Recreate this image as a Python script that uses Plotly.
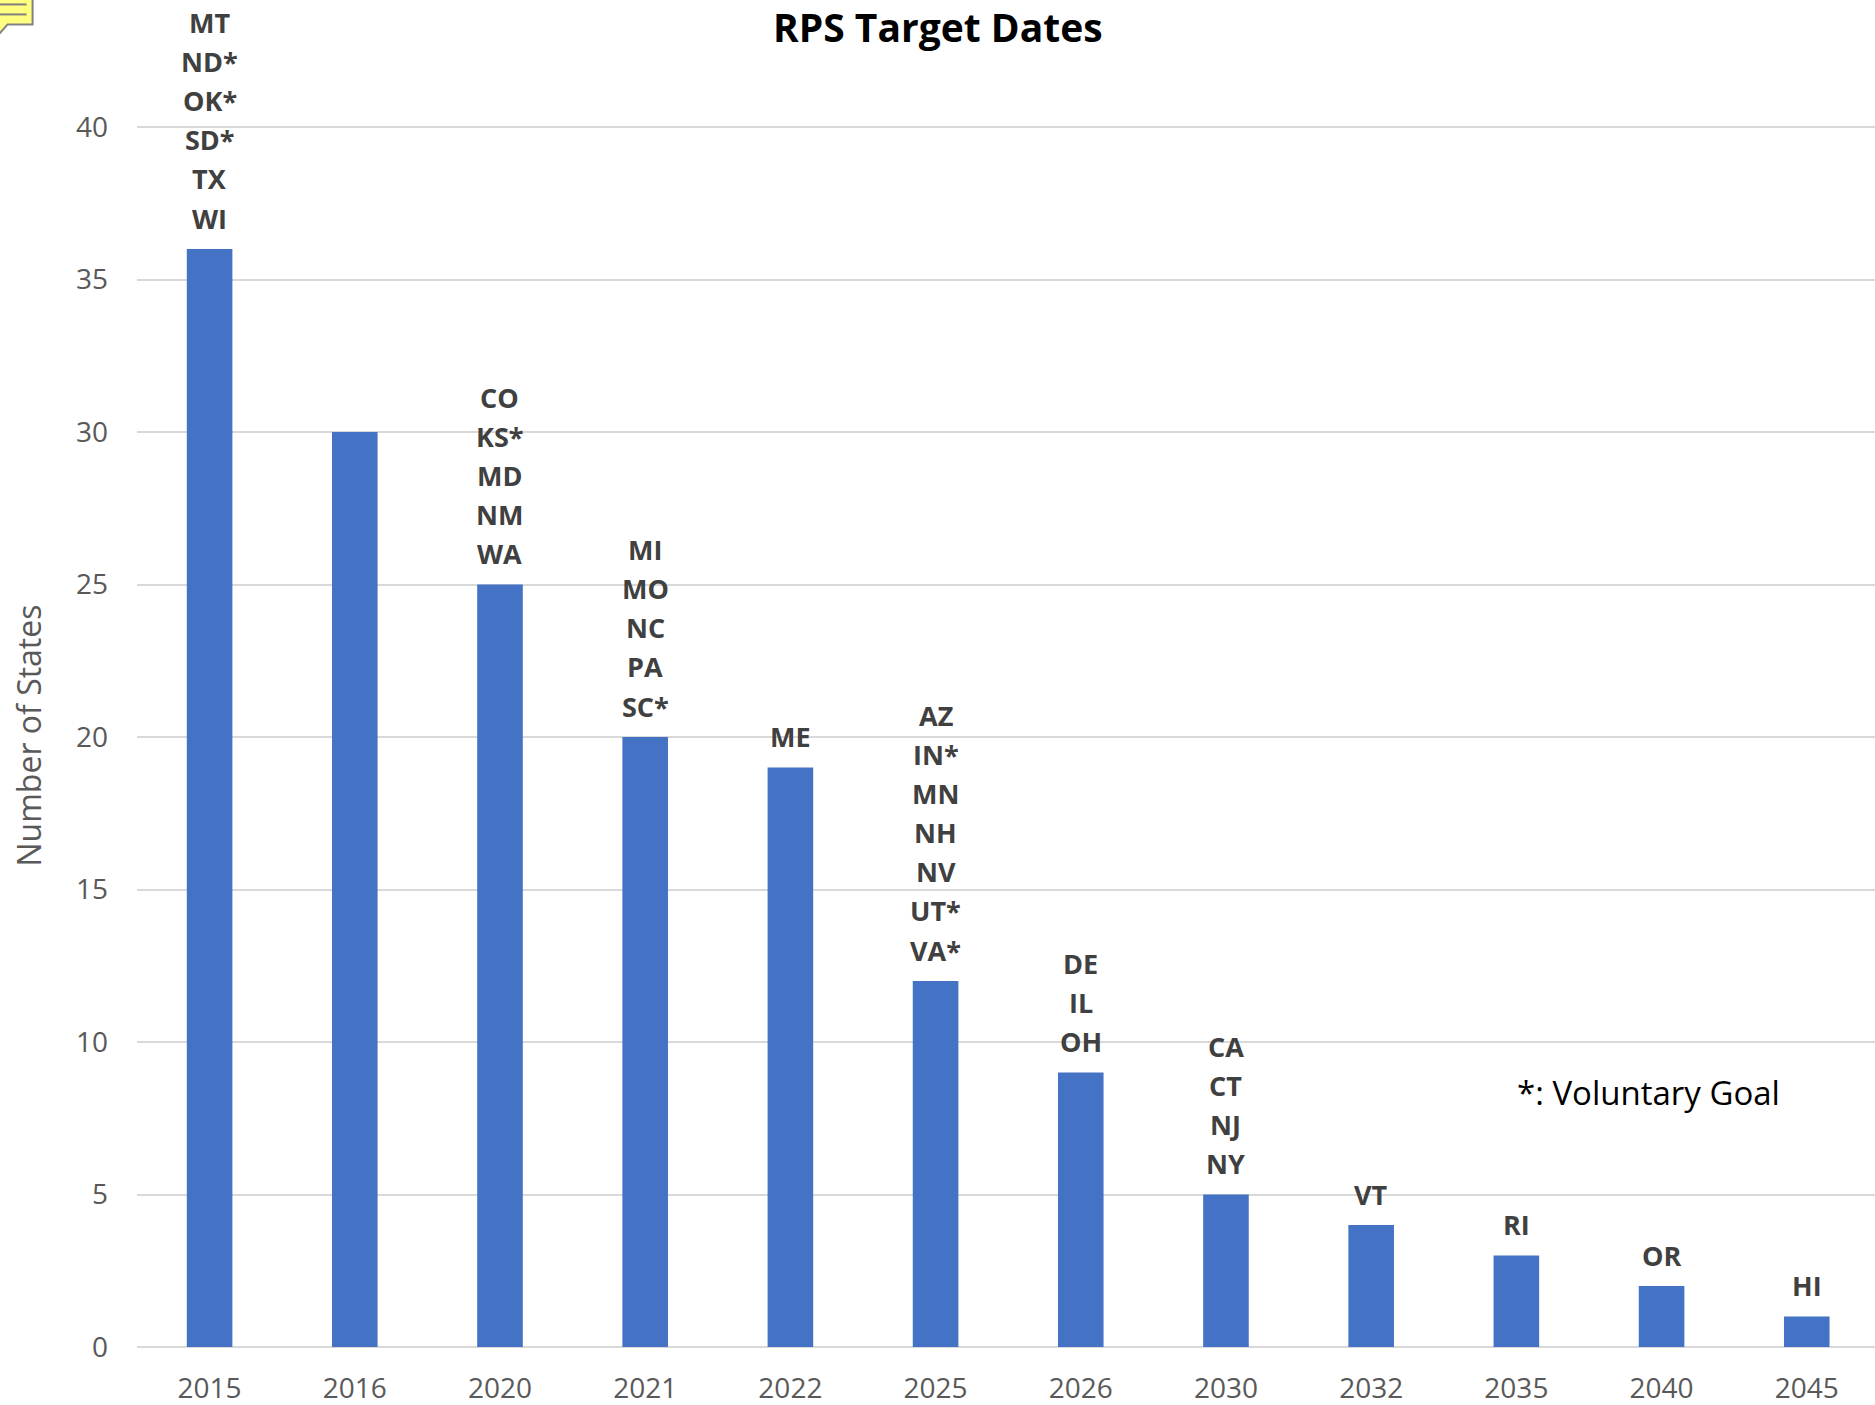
import plotly.graph_objects as go

years = ["2015","2016","2020","2021","2022","2025","2026","2030","2032","2035","2040","2045"]
counts = [36,30,25,20,19,12,9,5,4,3,2,1]
states = [
    ["MT","ND*","OK*","SD*","TX","WI"],
    [],
    ["CO","KS*","MD","NM","WA"],
    ["MI","MO","NC","PA","SC*"],
    ["ME"],
    ["AZ","IN*","MN","NH","NV","UT*","VA*"],
    ["DE","IL","OH"],
    ["CA","CT","NJ","NY"],
    ["VT"],
    ["RI"],
    ["OR"],
    ["HI"],
]
title = "RPS Target Dates"
y_title = "Number of States"
note = "*: Voluntary Goal"

W, H = 1875, 1405
Y_TOP = 40.1
B = 57.5
UNIT = (1347.5 - 126.7) / 40
T = 1347.5 - Y_TOP * UNIT
L = 137.4
PW = W - L
PH = H - T - B
FONT = "Open Sans"

def px(x): return (x - L) / PW
def py(y): return (1347.5 - y) / PH

fig = go.Figure(go.Bar(x=years, y=counts, marker=dict(color="#4472C4", line=dict(width=0)),
                       width=0.314, cliponaxis=False))

ann = []
for i, labs in enumerate(states):
    for k, s in enumerate(reversed(labs)):
        ann.append(dict(x=i, y=counts[i], xref="x", yref="y", text=s, showarrow=False,
                        yanchor="middle", xanchor="center", yshift=31 + 39.1 * k,
                        font=dict(family=FONT, size=27, color="#404040", weight="bold")))
ann.append(dict(xref="paper", yref="paper", x=px(938), y=py(26),
                text=title, showarrow=False, xanchor="center", yanchor="middle",
                font=dict(family=FONT, size=39, color="#000000", weight="bold")))
ann.append(dict(xref="paper", yref="paper", x=px(1649), y=py(1093),
                text=note, showarrow=False, xanchor="center", yanchor="middle",
                font=dict(family=FONT, size=33, color="#000000")))

shapes = [
    dict(type="path", xref="paper", yref="paper",
         path=f"M {px(-2)} {py(-2)} L {px(33)} {py(-2)} L {px(33)} {py(24)} L {px(8)} {py(24)} L {px(0)} {py(33)} L {px(-2)} {py(33)} Z",
         fillcolor="#FFFF80", line=dict(color="#808080", width=2)),
    dict(type="line", xref="paper", yref="paper", x0=px(0), x1=px(27), y0=py(4), y1=py(4),
         line=dict(color="#808080", width=2)),
    dict(type="line", xref="paper", yref="paper", x0=px(0), x1=px(27), y0=py(14), y1=py(14),
         line=dict(color="#808080", width=2)),
]

fig.update_layout(
    width=W, height=H, autosize=False, showlegend=False,
    margin=dict(l=L, r=0, t=T, b=B, pad=0),
    paper_bgcolor="white", plot_bgcolor="white",
    annotations=ann, shapes=shapes,
    font=dict(family=FONT, color="#595959"),
    xaxis=dict(type="category", range=[-0.5, 11.47], showgrid=False, ticks="", showline=False,
               tickfont=dict(family=FONT, size=28, color="#595959"), automargin=False, fixedrange=True,
               ticklabelstandoff=22),
    yaxis=dict(range=[0, Y_TOP], tick0=0, dtick=5, gridcolor="#D9D9D9", gridwidth=2, ticks="",
               zeroline=True, zerolinecolor="#D9D9D9", zerolinewidth=2, showline=False,
               tickfont=dict(family=FONT, size=28, color="#595959"), automargin=False,
               ticklabelstandoff=28,
               title=dict(text=y_title, font=dict(family=FONT, size=32, color="#595959"), standoff=24)),
)
fig.write_html("out.html", config={"displayModeBar": False},
               post_script="document.body.style.margin='0';")
